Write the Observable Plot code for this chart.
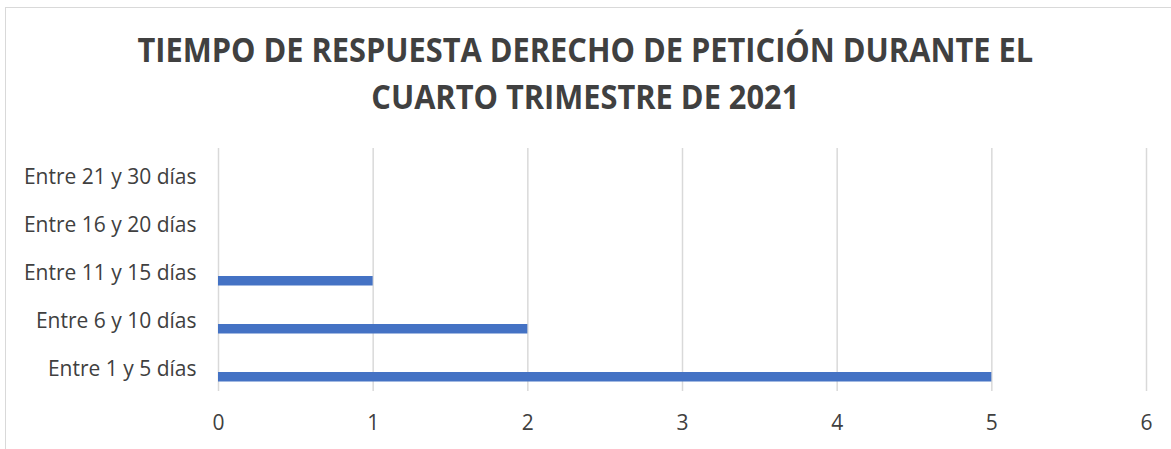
<!DOCTYPE html>
<html>
<head>
<meta charset="utf-8">
<script src="https://cdn.jsdelivr.net/npm/d3@7"></script>
<script src="https://cdn.jsdelivr.net/npm/@observablehq/plot@0.6"></script>
<style>
  html, body { margin: 0; padding: 0; background: #fff; }
  #frame { position: absolute; left: 5px; top: 7px; width: 1170px; height: 450px; border: 1px solid #d9d9d9; box-sizing: border-box; }
  #wrap { position: relative; width: 1171px; height: 449px; }
  #title { position: relative; height: 140px; box-sizing: border-box; padding-top: 26px; text-align: center;
    font-family: "Open Sans", sans-serif; font-weight: 700; font-size: 34px; line-height: 47px; color: #404040; }
  #title span { display: block; transform: scaleX(0.905); transform-origin: 583px 50%; white-space: nowrap; }
  svg { display: block; }
</style>
</head>
<body>
<div id="frame"></div>
<div id="wrap">
  <div id="title"><span>TIEMPO DE RESPUESTA DERECHO DE PETICIÓN DURANTE EL</span><span>CUARTO TRIMESTRE DE 2021</span></div>
  <div id="chart"></div>
</div>
<script>
const categories = ["Entre 21 y 30 días", "Entre 16 y 20 días", "Entre 11 y 15 días", "Entre 6 y 10 días", "Entre 1 y 5 días"];
const values = [0, 0, 1, 2, 5];
const xTicks = [0, 1, 2, 3, 4, 5, 6];

const data = categories.map((c, i) => ({category: c, value: values[i]}));

const chart = Plot.plot({
  width: 1171,
  height: 309,
  marginLeft: 218,
  marginRight: 25,
  marginTop: 8,
  marginBottom: 58,
  style: {fontFamily: "Open Sans, sans-serif", fontSize: "21px", color: "#404040", background: "transparent"},
  x: {domain: [0, 6], ticks: xTicks, label: null},
  y: {domain: categories, label: null, padding: 0},
  marks: [
    Plot.gridX(xTicks, {stroke: "#d9d9d9", strokeOpacity: 1, strokeWidth: 1.5}),
    Plot.barX(data, {x: "value", y: "category", fill: "#4472c4", insetTop: 30, insetBottom: 8.5}),
    Plot.axisX(xTicks, {tickSize: 0, tickPadding: 24, fontSize: 21, fill: "#404040", tickFormat: d3.format("d")}),
    Plot.axisY({tickSize: 0, tickPadding: 22, fontSize: 21, dy: 3, fill: "#404040"})
  ]
});
document.getElementById("chart").appendChild(chart);
</script>
</body>
</html>
